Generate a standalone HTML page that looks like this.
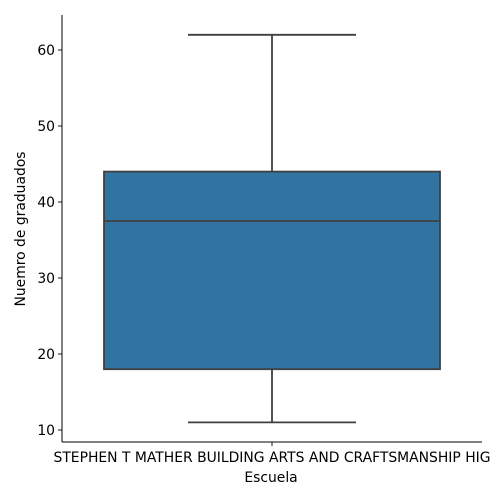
<!DOCTYPE html>
<html><head><meta charset="utf-8"><style>
html,body{margin:0;padding:0;background:#fff;}
svg{display:block;font-family:"DejaVu Sans","Liberation Sans",sans-serif;}
</style></head><body>
<svg id="chart" width="500" height="500"></svg>
<script>
const categories = ["STEPHEN T MATHER BUILDING ARTS AND CRAFTSMANSHIP HIG"];
const whiskerLow = [11];
const q1Values = [18];
const medianValues = [37.5];
const q3Values = [44];
const whiskerHigh = [62];
const yTicks = [10, 20, 30, 40, 50, 60];

const NS = "http://www.w3.org/2000/svg";
const svgRoot = document.getElementById("chart");
const plotLeft = 62, plotRight = 482, plotTop = 15, plotBottom = 442;
const fs = "13.9";
function yScale(v){ return 430 - (v - 10) * 7.6; }
function xCenter(i){ return plotLeft + (plotRight - plotLeft) * (i + 0.5) / categories.length; }
function mk(tag, attrs, parent){
  const e = document.createElementNS(NS, tag);
  for (const k in attrs) e.setAttribute(k, attrs[k]);
  (parent || svgRoot).appendChild(e);
  return e;
}
const ink = "#3f3f3f";
const slot = (plotRight - plotLeft) / categories.length;

categories.forEach((c, i) => {
  const cx = xCenter(i);
  const bw = slot * 0.8, cap = bw / 2;
  const g = mk("g", {});
  
  
  const w1 = mk("line", {x1:cx, x2:cx, y1:yScale(q3Values[i]), y2:yScale(whiskerHigh[i]), stroke:ink, "stroke-width":1.8}, g);
  
  
  const w2 = mk("line", {x1:cx, x2:cx, y1:yScale(q1Values[i]), y2:yScale(whiskerLow[i]), stroke:ink, "stroke-width":1.8}, g);
  
  
  const c1 = mk("line", {x1:cx-cap/2, x2:cx+cap/2, y1:yScale(whiskerHigh[i]), y2:yScale(whiskerHigh[i]), stroke:ink, "stroke-width":1.8}, g);
  
  
  const c2 = mk("line", {x1:cx-cap/2, x2:cx+cap/2, y1:yScale(whiskerLow[i]), y2:yScale(whiskerLow[i]), stroke:ink, "stroke-width":1.8}, g);
  
  
  const box = mk("rect", {x:cx-bw/2, y:yScale(q3Values[i]), width:bw, height:yScale(q1Values[i])-yScale(q3Values[i]), fill:"#3274a1", stroke:ink, "stroke-width":1.8}, g);
  
  
  const med = mk("line", {x1:cx-bw/2, x2:cx+bw/2, y1:yScale(medianValues[i]), y2:yScale(medianValues[i]), stroke:ink, "stroke-width":1.8}, g);
  
  
  const t = mk("line", {x1:cx, x2:cx, y1:plotBottom, y2:plotBottom+4, stroke:"#000", "stroke-width":0.9});
  
  
  const tl = mk("text", {x:cx, y:plotBottom+20, "text-anchor":"middle", "font-size":fs, fill:"#000"});
  tl.textContent = c;
  
  
});

yTicks.forEach(v => {
  const t = mk("line", {x1:plotLeft-4, x2:plotLeft, y1:yScale(v), y2:yScale(v), stroke:"#000", "stroke-width":0.9});
  
  
  const tl = mk("text", {x:plotLeft-7, y:yScale(v)+5, "text-anchor":"end", "font-size":fs, fill:"#000"});
  tl.textContent = v;
  
  
});

const ys = mk("line", {x1:plotLeft, x2:plotLeft, y1:plotTop, y2:plotBottom, stroke:"#000", "stroke-width":1});


const xs = mk("line", {x1:plotLeft, x2:plotRight, y1:plotBottom, y2:plotBottom, stroke:"#000", "stroke-width":1});



const xt = mk("text", {x:271, y:482, "text-anchor":"middle", "font-size":fs, fill:"#000"});
xt.textContent = "Escuela";


const yt = mk("text", {x:0, y:0, transform:"translate(25,229) rotate(-90)", "text-anchor":"middle", "font-size":fs, fill:"#000"});
yt.textContent = "Nuemro de graduados";


</script>
</body></html>
